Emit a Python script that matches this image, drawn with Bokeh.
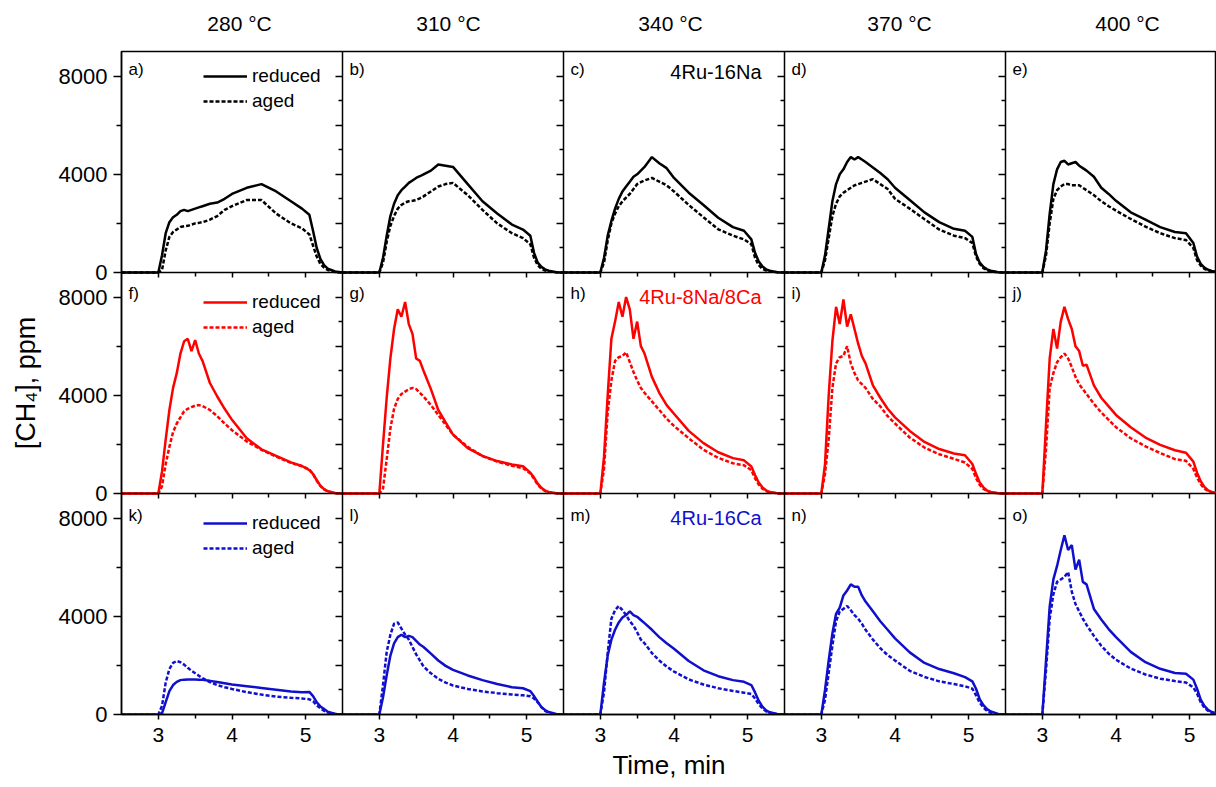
from bokeh.plotting import figure
from bokeh.models import LinearAxis, Label, Legend, LegendItem, FixedTicker, Range1d, Grid
from bokeh.embed import file_html
from bokeh.resources import INLINE

# ---------------- data ----------------
time_min = [2.5, 3.0, 3.05, 3.1, 3.15, 3.2, 3.25, 3.3, 3.35, 3.4, 3.45, 3.5, 3.55, 3.6,
            3.7, 3.8, 3.9, 4.0, 4.2, 4.4, 4.6, 4.8, 4.95, 5.05, 5.1, 5.15, 5.2, 5.25,
            5.3, 5.4, 5.5]

temperatures = ["280 °C", "310 °C", "340 °C", "370 °C", "400 °C"]
catalysts = ["4Ru-16Na", "4Ru-8Na/8Ca", "4Ru-16Ca"]
panel_letters = [["a)", "b)", "c)", "d)", "e)"],
                 ["f)", "g)", "h)", "i)", "j)"],
                 ["k)", "l)", "m)", "n)", "o)"]]
series_labels = ["reduced", "aged"]
x_major_ticks = [3, 4, 5]
x_minor_ticks = [3.5, 4.5]
y_left_major = [0, 4000, 8000]
y_left_minor = [2000, 6000]
y_inner_major = [0, 2000, 4000, 6000, 8000]
y_inner_minor = [1000, 3000, 5000, 7000]

# 4Ru-16Na (black)
na16_reduced_280 = [0, 0, 700, 1600, 2050, 2250, 2350, 2500, 2550, 2500, 2550, 2600, 2650, 2700, 2800, 2850, 3000, 3200, 3450, 3600, 3300, 2900, 2600, 2350, 1700, 1000, 550, 300, 160, 40, 0]
na16_aged_280 = [0, 0, 100, 900, 1450, 1650, 1750, 1850, 1880, 1900, 1950, 2000, 2020, 2050, 2150, 2300, 2550, 2700, 2950, 2950, 2400, 2000, 1800, 1550, 1100, 650, 350, 200, 100, 20, 0]
na16_reduced_310 = [0, 0, 600, 1500, 2300, 2800, 3150, 3350, 3500, 3650, 3750, 3850, 3920, 4000, 4150, 4400, 4350, 4300, 3600, 2900, 2400, 1950, 1750, 1500, 800, 400, 230, 130, 70, 15, 0]
na16_aged_310 = [0, 0, 400, 1250, 1900, 2300, 2600, 2750, 2850, 2900, 2920, 2950, 3020, 3100, 3300, 3500, 3600, 3650, 3150, 2550, 2000, 1600, 1400, 1150, 600, 300, 150, 80, 40, 10, 0]
na16_reduced_340 = [0, 0, 600, 1500, 2100, 2600, 3000, 3300, 3500, 3700, 3900, 4000, 4150, 4300, 4700, 4450, 4250, 3850, 3250, 2750, 2230, 1850, 1700, 1350, 800, 450, 250, 130, 70, 15, 0]
na16_aged_340 = [0, 0, 400, 1300, 2000, 2400, 2700, 2900, 3050, 3200, 3400, 3600, 3680, 3750, 3850, 3700, 3550, 3300, 2750, 2250, 1760, 1500, 1350, 1150, 600, 300, 150, 80, 40, 10, 0]
na16_reduced_370 = [0, 0, 700, 1800, 2900, 3600, 4000, 4200, 4500, 4700, 4600, 4700, 4600, 4500, 4280, 4050, 3800, 3450, 2950, 2450, 2050, 1780, 1700, 1450, 750, 400, 230, 130, 70, 15, 0]
na16_aged_370 = [0, 0, 500, 1400, 2300, 2800, 3100, 3250, 3350, 3450, 3550, 3600, 3650, 3700, 3800, 3600, 3400, 3000, 2600, 2170, 1750, 1500, 1400, 1200, 650, 350, 180, 90, 40, 10, 0]
na16_reduced_400 = [0, 0, 900, 2400, 3600, 4200, 4500, 4550, 4400, 4450, 4500, 4350, 4250, 4150, 3900, 3450, 3200, 2920, 2450, 2150, 1850, 1650, 1600, 1200, 650, 350, 200, 110, 60, 15, 0]
na16_aged_400 = [0, 0, 700, 2000, 3000, 3350, 3500, 3600, 3600, 3550, 3550, 3550, 3450, 3350, 3150, 2900, 2700, 2520, 2180, 1870, 1600, 1400, 1320, 1000, 500, 280, 150, 80, 40, 10, 0]

# 4Ru-8Na/8Ca (red)
na8ca8_reduced_280 = [0, 0, 900, 2200, 3400, 4300, 4900, 5700, 6200, 6300, 5800, 6250, 5700, 5400, 4500, 3950, 3450, 3000, 2250, 1800, 1530, 1270, 1120, 950, 800, 550, 320, 180, 90, 20, 0]
na8ca8_aged_280 = [0, 0, 300, 1200, 1900, 2500, 2850, 3100, 3350, 3450, 3520, 3580, 3600, 3560, 3400, 3150, 2850, 2580, 2120, 1780, 1500, 1250, 1110, 980, 780, 520, 300, 170, 80, 20, 0]
na8ca8_reduced_310 = [0, 0, 2000, 3900, 5500, 6700, 7500, 7200, 7800, 6900, 6500, 5500, 5400, 5000, 4250, 3400, 2900, 2400, 1850, 1530, 1320, 1180, 1110, 850, 650, 400, 230, 120, 60, 15, 0]
na8ca8_aged_310 = [0, 0, 200, 1400, 2650, 3450, 3850, 4050, 4150, 4250, 4300, 4250, 4100, 3950, 3600, 3200, 2800, 2400, 1900, 1520, 1300, 1130, 1030, 820, 600, 360, 200, 100, 50, 10, 0]
na8ca8_reduced_340 = [0, 0, 1500, 4000, 6300, 7000, 7800, 7200, 8000, 7500, 6300, 7000, 6000, 5700, 4750, 4100, 3600, 3250, 2550, 2050, 1680, 1440, 1350, 1100, 750, 450, 250, 130, 60, 15, 0]
na8ca8_aged_340 = [0, 0, 1000, 3300, 4600, 5400, 5550, 5600, 5750, 5350, 4950, 4600, 4300, 4100, 3750, 3400, 3050, 2750, 2250, 1780, 1450, 1230, 1150, 950, 620, 360, 200, 100, 50, 10, 0]
na8ca8_reduced_370 = [0, 0, 1200, 4000, 6200, 7600, 6900, 7900, 6800, 7300, 6700, 6100, 5600, 5300, 4400, 3900, 3450, 3100, 2550, 2100, 1810, 1630, 1560, 1200, 800, 450, 250, 120, 60, 15, 0]
na8ca8_aged_370 = [0, 0, 800, 2200, 4300, 5300, 5550, 5600, 6000, 5300, 4900, 4600, 4450, 4300, 3850, 3550, 3150, 2850, 2280, 1870, 1600, 1410, 1260, 1000, 620, 350, 190, 100, 50, 10, 0]
na8ca8_reduced_400 = [0, 0, 2800, 5500, 6700, 5900, 7000, 7600, 7100, 6700, 6000, 5800, 5200, 5250, 4400, 3900, 3550, 3200, 2700, 2280, 1980, 1760, 1660, 1300, 850, 500, 270, 130, 60, 15, 0]
na8ca8_aged_400 = [0, 0, 1800, 4300, 4900, 5350, 5550, 5700, 5500, 5150, 4750, 4450, 4250, 4050, 3650, 3300, 3000, 2700, 2250, 1920, 1650, 1400, 1330, 1000, 650, 380, 200, 100, 50, 10, 0]

# 4Ru-16Ca (blue)
ca16_reduced_280 = [0, 0, 50, 500, 950, 1200, 1330, 1400, 1420, 1430, 1430, 1430, 1420, 1410, 1370, 1320, 1270, 1220, 1150, 1080, 1010, 940, 910, 920, 750, 500, 330, 220, 110, 25, 0]
ca16_aged_280 = [0, 0, 350, 1300, 1850, 2100, 2180, 2130, 2030, 1900, 1780, 1680, 1580, 1480, 1320, 1200, 1110, 1040, 910, 810, 730, 680, 650, 620, 540, 380, 250, 150, 80, 20, 0]
ca16_reduced_310 = [0, 0, 700, 1600, 2400, 2900, 3150, 3250, 3150, 3200, 3150, 3000, 2850, 2750, 2480, 2200, 1980, 1820, 1590, 1400, 1240, 1110, 1070, 950, 750, 520, 300, 180, 100, 25, 0]
ca16_aged_310 = [0, 0, 1200, 2550, 3250, 3700, 3750, 3500, 3250, 3050, 2750, 2450, 2200, 1950, 1680, 1450, 1300, 1180, 1040, 940, 870, 815, 780, 740, 650, 500, 300, 150, 70, 15, 0]
ca16_reduced_340 = [0, 0, 1300, 2400, 3050, 3450, 3750, 3950, 4050, 4200, 4050, 3980, 3850, 3720, 3450, 3150, 2900, 2680, 2180, 1800, 1560, 1400, 1330, 1200, 900, 560, 320, 170, 90, 20, 0]
ca16_aged_340 = [0, 0, 900, 2500, 3900, 4250, 4420, 4250, 4050, 3800, 3620, 3350, 3050, 2900, 2500, 2200, 1950, 1750, 1430, 1220, 1070, 960, 890, 830, 650, 420, 250, 130, 60, 15, 0]
ca16_reduced_370 = [0, 0, 1000, 2200, 3300, 4100, 4350, 4850, 5050, 5300, 5200, 5200, 4850, 4600, 4200, 3800, 3450, 3100, 2530, 2100, 1850, 1680, 1520, 1350, 1050, 620, 380, 220, 120, 25, 0]
ca16_aged_370 = [0, 0, 600, 1700, 2800, 3800, 4200, 4300, 4420, 4250, 4050, 3900, 3700, 3450, 3050, 2700, 2420, 2200, 1780, 1530, 1350, 1240, 1150, 1050, 780, 480, 280, 150, 70, 15, 0]
ca16_reduced_400 = [0, 0, 2200, 4400, 5500, 6050, 6700, 7300, 6700, 6900, 5900, 6300, 5400, 5300, 4300, 3870, 3480, 3150, 2550, 2130, 1860, 1690, 1660, 1420, 1050, 600, 350, 190, 100, 20, 0]
ca16_aged_400 = [0, 0, 1800, 3900, 4900, 5400, 5500, 5600, 5800, 5000, 4500, 4200, 3900, 3650, 3200, 2800, 2480, 2230, 1870, 1630, 1460, 1360, 1300, 1100, 850, 500, 280, 150, 70, 15, 0]

reduced_rows = [
    [na16_reduced_280, na16_reduced_310, na16_reduced_340, na16_reduced_370, na16_reduced_400],
    [na8ca8_reduced_280, na8ca8_reduced_310, na8ca8_reduced_340, na8ca8_reduced_370, na8ca8_reduced_400],
    [ca16_reduced_280, ca16_reduced_310, ca16_reduced_340, ca16_reduced_370, ca16_reduced_400],
]
aged_rows = [
    [na16_aged_280, na16_aged_310, na16_aged_340, na16_aged_370, na16_aged_400],
    [na8ca8_aged_280, na8ca8_aged_310, na8ca8_aged_340, na8ca8_aged_370, na8ca8_aged_400],
    [ca16_aged_280, ca16_aged_310, ca16_aged_340, ca16_aged_370, ca16_aged_400],
]

# ---------------- layout constants ----------------
FONT = "Liberation Sans"
COLORS = ["#000000", "#ff0000", "#1010cc"]
N_ROWS, N_COLS = 3, 5
X_START, X_END = 2.5, 5.5          # time span of one panel
X_SPAN = X_END - X_START
Y_TOP = 9000                       # ppm span of one panel
PANEL_W, PANEL_H = 221, 221        # pixel size of one panel
FRAME_W = 1095                     # last column is cut at the page edge
FRAME_H = N_ROWS * PANEL_H
PX_PER_MIN = PANEL_W / X_SPAN
SPAN_MIN = FRAME_W / PX_PER_MIN
SPAN_PPM = Y_TOP * N_ROWS

TITLE_DX = [7.5, -4.5, -3.5, 4.5, 11.5]   # header shift from column centre, px
LETTER_DY = [-8, -11, -12]
NAME_DY = [-20, -24, -24]
LEGEND_TOP = [18, 23, 23]

# one x scale per column, one y scale per row, all sharing a single frame
x_ranges = {}
for c in range(N_COLS):
    s = X_START - c * X_SPAN
    x_ranges[f"x{c}"] = Range1d(s, s + SPAN_MIN)
y_ranges = {}
for r in range(N_ROWS):
    s = -(N_ROWS - 1 - r) * Y_TOP
    y_ranges[f"y{r}"] = Range1d(s, s + SPAN_PPM)

p = figure(frame_width=FRAME_W, frame_height=FRAME_H,
           x_range=Range1d(X_START, X_START + SPAN_MIN),
           y_range=Range1d(0, SPAN_PPM),
           x_axis_location=None, y_axis_location=None,
           toolbar_location=None, output_backend="svg",
           min_border_left=121, min_border_right=0,
           min_border_top=51, min_border_bottom=72,
           outline_line_color="black", outline_line_width=1.5,
           background_fill_color="white", border_fill_color="white")
p.extra_x_ranges = x_ranges
p.extra_y_ranges = y_ranges
p.center = [m for m in p.center if not isinstance(m, Grid)]


def hide_labels(axis):
    axis.major_label_text_font_size = "0px"
    axis.major_label_text_alpha = 0
    axis.major_label_standoff = 0


# ---- shared left axis: each row repeats 0 / 4000 / 8000 ----
left_major, left_minor, left_text = [], [], {}
for r in range(N_ROWS):
    off = (N_ROWS - 1 - r) * Y_TOP
    for t in y_left_major:
        left_major.append(off + t)
        left_text[off + t] = str(t)
    for t in y_left_minor:
        left_minor.append(off + t)
la = LinearAxis(ticker=FixedTicker(ticks=left_major, minor_ticks=left_minor),
                major_label_overrides=left_text,
                major_tick_out=8, major_tick_in=0, minor_tick_out=5, minor_tick_in=0,
                major_tick_line_width=1.5, minor_tick_line_width=1.5,
                axis_line_width=1.5, major_label_standoff=6,
                major_label_text_font=FONT, major_label_text_font_size="22px",
                major_label_text_color="black",
                axis_label="[CH₄], ppm", axis_label_text_font=FONT,
                axis_label_text_font_size="27px", axis_label_text_font_style="normal",
                axis_label_text_color="black", axis_label_standoff=15)
p.add_layout(la, "left")

# ---- shared bottom axis: each column repeats 3 / 4 / 5 ----
bot_major, bot_minor, bot_text = [], [], {}
for c in range(N_COLS):
    off = c * X_SPAN
    for t in x_major_ticks:
        if off + t <= X_START + SPAN_MIN:
            bot_major.append(off + t)
            bot_text[off + t] = str(t)
    for t in x_minor_ticks:
        if off + t <= X_START + SPAN_MIN:
            bot_minor.append(off + t)
ba = LinearAxis(ticker=FixedTicker(ticks=bot_major, minor_ticks=bot_minor),
                major_label_overrides=bot_text,
                major_tick_out=5, major_tick_in=0, minor_tick_out=4, minor_tick_in=0,
                major_tick_line_width=1.5, minor_tick_line_width=1.5,
                axis_line_width=1.5, major_label_standoff=8,
                major_label_text_font=FONT, major_label_text_font_size="21px",
                major_label_text_color="black",
                axis_label="Time, min", axis_label_text_font=FONT,
                axis_label_text_font_size="26px", axis_label_text_font_style="normal",
                axis_label_text_color="black", axis_label_standoff=5)
p.add_layout(ba, "below")

# ---- temperature headers as a top axis without ticks ----
head_pos, head_text = [], {}
for c in range(N_COLS):
    pos = round(X_START + c * X_SPAN + X_SPAN / 2 + TITLE_DX[c] / PX_PER_MIN, 4)
    head_pos.append(pos)
    head_text[pos] = temperatures[c]
ha = LinearAxis(ticker=FixedTicker(ticks=head_pos, minor_ticks=[]),
                major_label_overrides=head_text,
                major_tick_out=0, major_tick_in=0, minor_tick_out=0, minor_tick_in=0,
                axis_line_color=None, major_tick_line_color=None,
                major_label_standoff=17, major_label_text_font=FONT,
                major_label_text_font_size="21px", major_label_text_color="black")
p.add_layout(ha, "above")

# ---- inner right ticks at every column boundary (pointing left) ----
for c in range(N_COLS - 1):
    for r in range(N_ROWS):
        ra = LinearAxis(x_range_name=f"x{c}", y_range_name=f"y{r}", fixed_location=X_END,
                        ticker=FixedTicker(ticks=y_inner_major, minor_ticks=y_inner_minor),
                        major_tick_in=7, major_tick_out=0, minor_tick_in=4, minor_tick_out=0,
                        major_tick_line_width=1.5, minor_tick_line_width=1.5,
                        axis_line_color="black" if r == 0 else None, axis_line_width=1.5)
        hide_labels(ra)
        p.add_layout(ra, "right")

# ---- inner top ticks at every row boundary (pointing down) ----
for r in range(1, N_ROWS):
    for c in range(N_COLS):
        ta = LinearAxis(x_range_name=f"x{c}", y_range_name=f"y{r}", fixed_location=Y_TOP,
                        ticker=FixedTicker(ticks=x_major_ticks, minor_ticks=x_minor_ticks),
                        major_tick_in=5, major_tick_out=0, minor_tick_in=4, minor_tick_out=0,
                        major_tick_line_width=1.5, minor_tick_line_width=1.5,
                        axis_line_color="black" if c == 0 else None, axis_line_width=1.5)
        hide_labels(ta)
        p.add_layout(ta, "above")

# ---- curves, panel letters, sample names, legends ----
for r in range(N_ROWS):
    color = COLORS[r]
    for c in range(N_COLS):
        xr, yr = f"x{c}", f"y{r}"
        r_red = p.line(time_min, reduced_rows[r][c], line_color=color, line_width=2.5,
                       x_range_name=xr, y_range_name=yr)
        r_aged = p.line(time_min, aged_rows[r][c], line_color=color, line_width=2.5,
                        line_dash="4 2", x_range_name=xr, y_range_name=yr)

        p.add_layout(Label(x=X_START, y=Y_TOP, x_range_name=xr, y_range_name=yr,
                           x_offset=7, y_offset=LETTER_DY[r], text=panel_letters[r][c],
                           text_align="left", text_baseline="top", text_font=FONT,
                           text_font_size="17px", text_color="black"))
        if c == 2:
            p.add_layout(Label(x=X_END, y=Y_TOP, x_range_name=xr, y_range_name=yr,
                               x_offset=-23, y_offset=NAME_DY[r], text=catalysts[r],
                               text_align="right", text_baseline="middle", text_font=FONT,
                               text_font_size="20px", text_color=color))
        if c == 0:
            legend_h = 43
            loc_y = (N_ROWS - 1 - r) * PANEL_H + PANEL_H - LEGEND_TOP[r] - legend_h
            leg = Legend(items=[LegendItem(label=series_labels[0], renderers=[r_red]),
                                LegendItem(label=series_labels[1], renderers=[r_aged])],
                         location=(82, loc_y), orientation="vertical",
                         border_line_color=None, background_fill_alpha=0,
                         padding=0, margin=0, spacing=3,
                         glyph_width=44, glyph_height=20, label_height=20,
                         label_standoff=5, label_text_font=FONT,
                         label_text_font_size="19px", label_text_color="black")
            p.add_layout(leg)

open("out.html", "w").write(file_html(p, INLINE, title="CH4 formation"))
